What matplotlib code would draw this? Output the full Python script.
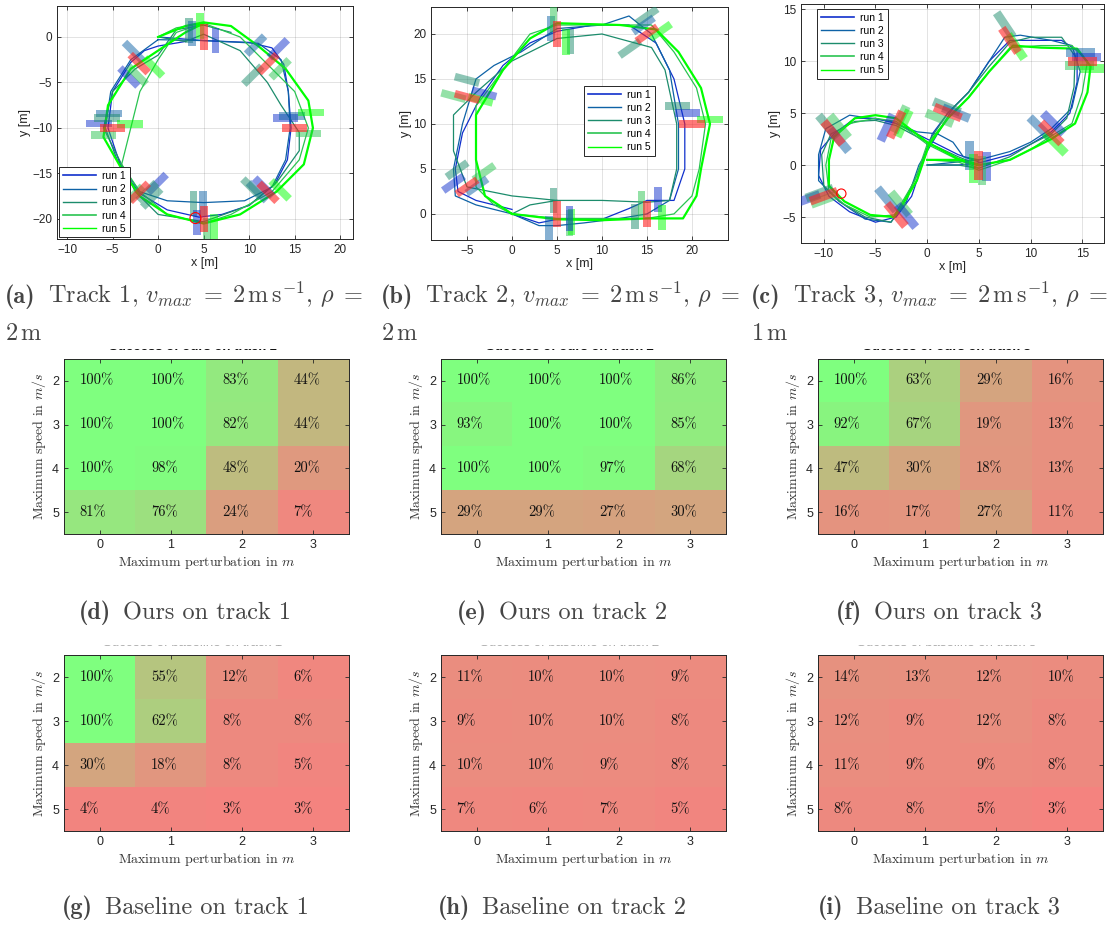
import matplotlib
matplotlib.use('Agg')
import matplotlib.pyplot as plt
from matplotlib.patches import Rectangle, Circle
from matplotlib.colors import LinearSegmentedColormap
from matplotlib.transforms import Bbox
from matplotlib.lines import Line2D

plt.rcParams['mathtext.fontset'] = 'cm'
plt.rcParams['font.family'] = ['Liberation Sans', 'DejaVu Sans']

# %% run colours (run 1 .. run 5)
run_names = ['run 1', 'run 2', 'run 3', 'run 4', 'run 5']
run_colors = ['#1030cc', '#0e62a6', '#1c8c6c', '#2ac451', '#00ff00']
run_widths = [0.9, 0.9, 0.9, 0.9, 1.6]

# %% Track 1 trajectories (x, y) in m
t1_run1 = [(0, 0), (5, -0.4), (10, -0.6), (12.5, -1.2), (13.8, -3), (14.3, -6), (14.6, -10),
           (14.2, -13.5), (12.8, -16.2), (10, -18.5), (7, -19.5), (4.5, -19.8), (1, -19),
           (-2, -17.2), (-4, -14.5), (-5.5, -10), (-5, -6), (-3, -2.8), (-1.5, -1.5), (0, -1), (3, -0.5)]
t1_run2 = [(0, -0.3), (5, -0.4), (11, -0.7), (13.5, -2.5), (14.3, -6), (14.5, -10), (14, -13.5),
           (12.5, -16.5), (9.5, -18), (5, -18.2), (1, -18), (-2, -17), (-4.5, -13.5), (-5.8, -10),
           (-5.2, -6), (-3, -2.5), (0, -0.3)]
t1_run3 = [(0, 0), (3, -0.5), (5, 0.3), (9, -1.5), (12, -5), (13.5, -7.5), (15.5, -10.5), (15.5, -12.5),
           (13, -16), (10, -18.5), (5, -20.3), (0, -19.5), (-2.5, -17), (-4.5, -13), (-6, -10), (-5, -6),
           (-2.5, -3.5), (0, -2), (2, 0.8), (5, 1.3), (8, 0.5)]
t1_run4 = [(0, 0), (2, 1), (5, 1.5), (9, 0), (12, -3), (15, -6), (16.5, -10), (15.5, -13.5), (12.5, -17),
           (8, -19.5), (5, -20.5), (1, -19.5), (-2, -17), (-4, -14), (-3, -10), (-2, -6), (0, -2.5),
           (2, 0.5), (5, 1.5)]
t1_run5 = [(0, 0), (3, 1.2), (5, 1.6), (8, 1.2), (11, -1), (14, -3.5), (16.5, -7), (17, -10), (16, -14),
           (13, -17), (9, -19.5), (5, -20.5), (1, -19.5), (-2, -17.5), (-4, -14.5), (-6, -11),
           (-5.5, -7.5), (-3, -3.5), (0, -1.5), (3, 0.5), (5, 1.5)]

# nominal gates (red): centre x, centre y, bar angle in deg
t1_gate_x = [5, 12.07, 15, 12.07, 5, -2.07, -5, -2.07]
t1_gate_y = [0, -2.93, -10, -17.07, -20, -17.07, -10, -2.93]
t1_gate_a = [90, 45, 0, -45, 90, 45, 0, -45]
# perturbed gates: run index, x, y, angle
t1_pert_run = [2, 1, 4, 0, 1, 0, 2, 3, 0, 1, 4, 3, 1, 2, 4, 0, 1, 2, 4, 0, 3, 0, 2, 3, 2, 0, 1, 2, 3, 4, 1, 0, 3, 4]
t1_pert_x = [3.4, 3.7, 4.6, 6.3, 10.7, 13.2, 10.4, 13.4, 14.0, 14.7, 16.8, 16.5, 10.9, 10.3, 13.4, 11.6,
             4.9, 3.9, 6.1, 4.3, 5.4, -0.1, -0.7, -2.7, -1.2, -6.5, -5.4, -5.6, -6.0, -3.1, -2.7, -3.2, -2.3, -0.5]
t1_pert_y = [0.7, 0.4, 1.2, -0.4, -0.9, -1.3, -4.2, -3.5, -8.9, -8.7, -8.3, -10.6, -17.0, -16.6, -16.8, -16.5,
             -18.3, -18.3, -20.9, -20.4, -21.3, -16.1, -17.7, -17.4, -17.0, -9.5, -8.4, -8.9, -10.8, -9.6,
             -1.6, -4.4, -4.2, -3.3]
t1_pert_a = [90, 90, 90, 90, 45, 45, 45, 45, 0, 0, 0, 0, -45, -45, -45, -45, 90, 90, 90, 90, 90,
             45, 45, 45, 45, 0, 0, 0, 0, 0, -45, -45, -45, -45]

# %% Track 2
t2_run1 = [(0, 0), (3, -1), (5, -0.6), (10, -0.6), (13, 0.6), (15, 1.5), (18, 1.5), (19.2, 5), (19.2, 10),
           (18, 15), (16, 19), (13, 21), (9, 21), (5, 20.3), (2, 19), (-1, 16.5), (-3.5, 13), (-5.5, 9),
           (-6.3, 5), (-6, 2.5), (-4, 1.5), (0, 0.5)]
t2_run2 = [(0, 0), (3, -1.3), (5, -1.3), (8, -1), (12, -0.5), (15, 0), (17.5, 1.5), (18.5, 5), (18.5, 10),
           (18, 13), (17.5, 16), (15.5, 20), (13, 22), (10, 21), (5, 20.6), (1, 18), (-2, 16.5), (-4, 15),
           (-5.5, 10), (-6.5, 5), (-6.3, 2), (-4, 1), (0, 0)]
t2_run3 = [(0, 0), (2, 1), (5, 1.5), (10, 1.5), (15, 1.3), (17.5, 1.5), (18.3, 5), (18.3, 10), (17, 16),
           (15.5, 18.5), (10, 20), (5, 19.5), (0, 17), (-4, 13.5), (-6.5, 11), (-6.5, 7), (-5, 3),
           (0, 2), (5, 1.5)]
t2_run4 = [(0, 0), (5, -0.5), (10, -0.5), (15, -0.5), (18, 0), (20, 2), (20.8, 5), (21.5, 10), (20.5, 14),
           (18, 18), (15.5, 21), (10, 21), (5, 21), (2, 20), (-1, 16), (-4, 12), (-4, 8), (-4, 3), (-2, 1), (0, 0)]
t2_run5 = [(0, 0), (5, -0.6), (10, -0.7), (15, -0.5), (19, -0.5), (20.5, 2), (21, 5), (22, 10), (21, 14),
           (18.5, 18), (16, 20.5), (12, 21), (5, 21.2), (2, 19.5), (-1, 16), (-4, 11), (-4, 6), (-3, 2), (0, 0)]

t2_gate_x = [5, 15, 20, 15, 5, -5, -5]
t2_gate_y = [0, 0, 10, 20, 20, 13, 3]
t2_gate_a = [90, 90, 0, 35, 90, -15, 35]
t2_pert_run = [2, 1, 3, 4, 0, 0, 2, 3, 4, 2, 0, 4, 2, 1, 4, 2, 1, 3, 2, 4, 2, 0, 3, 4, 2, 0, 3, 1]
t2_pert_x = [4.6, 4.1, 6.4, 6.6, 6.4, 16.2, 13.7, 14.4, 16.7, 18.4, 19.5, 22.0, 15.0, 14.6, 16.5, 13.1,
             4.3, 4.6, 6.5, 6.0, -5.0, -3.1, -6.5, -3.5, -6.1, -6.5, -3.1, -3.9]
t2_pert_y = [1.5, -1.6, -1.0, -0.9, -0.5, 1.6, -0.3, 1.1, -0.4, 12.0, 11.2, 10.5, 22.0, 21.0, 20.3, 18.4,
             20.6, 21.6, 19.2, 19.1, 14.9, 13.4, 13.1, 12.7, 4.9, 3.4, 4.6, 3.1]
t2_pert_a = [90, 90, 90, 90, 90, 90, 90, 90, 90, 0, 0, 0, 35, 35, 35, 35, 90, 90, 90, 90,
             -15, -15, -15, -15, 35, 35, 35, 35]

# %% Track 3
t3_run1 = [(0, 0), (3, 0), (5, 0.2), (8, 1), (10, 2), (12, 3.2), (13.8, 5), (14.5, 8), (14.5, 11), (13, 12),
           (10, 12), (8, 12), (6, 10), (4, 7), (2, 5), (0.5, 3), (-0.5, 0), (-1.5, -3), (-3, -5), (-5, -5.5),
           (-7.5, -4.5), (-9.5, -3), (-10.5, -1), (-10.3, 1.5), (-9, 3), (-7, 4.5), (-5, 4.5), (-3, 4),
           (0, 2.5), (3, 1), (5, 0.3)]
t3_run2 = [(0, 0), (3, 0.3), (5, 0.5), (8, 1.3), (10, 2.2), (12, 3.5), (14, 5.5), (14.8, 9), (14, 11.5),
           (12, 12), (9, 12.5), (7.5, 12.3), (6, 10), (4, 7), (2.5, 5.5), (1, 3), (-0.8, 0), (-2, -3.5),
           (-3.5, -5.5), (-6, -5.2), (-8.5, -3.5), (-10.5, -1.5), (-10.5, 1), (-9.8, 3.5), (-7.5, 4.8),
           (-5.5, 4.5), (-3.5, 4.2), (-1, 3.2), (1, 3), (2.5, 2.2), (3.5, 0.8), (5, 0.5)]
t3_run3 = [(0, 0), (3, 0), (5, -0.3), (8, 0.8), (10, 2), (12, 3), (13.5, 4.5), (14.2, 7.5), (14.3, 10.5),
           (13, 12.3), (10, 12.3), (8, 11.8), (6, 9.5), (4, 7), (2, 5), (0.3, 2.5), (-1, -1), (-2.5, -4),
           (-3.5, -5.5), (-6, -5), (-8.5, -3.5), (-10, -2), (-10.2, 1), (-9.3, 3), (-7, 4.2), (-5, 4.3),
           (-3, 3.8), (0, 2.2), (3, 0.8), (5, 0)]
t3_run4 = [(0, 0.5), (3, 0.3), (5, -0.5), (8, 0.5), (10, 1.5), (12, 2.8), (14, 4), (15, 7), (15.5, 10),
           (14, 11.5), (11, 11.5), (8, 11.3), (6, 9), (4, 6.5), (2, 4.5), (0, 2), (-1.2, -1.5), (-2.8, -4.2),
           (-3.2, -4.8), (-5.5, -5), (-8, -3.8), (-9.5, -2.5), (-9.8, 0), (-9.3, 2.5), (-7.5, 4), (-5, 4.5),
           (-3, 4.2), (0, 2), (3, 0.5), (5, -0.3)]
t3_run5 = [(0, 0.5), (3, 0.5), (5, 0), (8, 0.5), (10, 1.5), (12, 2.5), (14.3, 4), (15.5, 7), (15.8, 9.5),
           (14.5, 11.2), (11, 11.3), (8.3, 11.5), (6, 9), (4, 6.5), (2, 4.5), (0.2, 2), (-1, -1.5), (-2.5, -4),
           (-3.2, -5), (-5.5, -4.8), (-8, -3.5), (-9.5, -2), (-9.5, 0.5), (-9, 2.7), (-7, 4.5), (-5, 4.8),
           (-3, 4.5), (0, 2.2), (3, 0.6), (5, 0)]

t3_gate_x = [-10, -9.1, -3, -3, 2, 5, 8, 15, 12]
t3_gate_y = [-3, 3.1, 3.9, -4.8, 5.06, 0, 12, 10, 3.1]
t3_gate_a = [20, -50, 65, -50, -22, 90, -56, 0, -45]
t3_pert_run = [0, 2, 3, 2, 3, 1, 0, 3, 4, 1, 3, 0, 2, 3, 1, 1, 0, 3, 4, 2, 4, 1, 0, 3, 4, 1, 0, 4]
t3_pert_x = [-11.7, -10.4, -9.9, -9.6, -8.5, -8.5, -3.9, -2.6, -2.3, -3.9, -2.6, -2.0, 1.9, 1.2, 2.8,
             4.1, 5.7, 5.3, 4.5, 7.5, 8.6, 14.8, 15.4, 14.7, 16.2, 10.9, 12.2, 12.4]
t3_pert_y = [-3.3, -2.7, -3.3, 3.7, 3.7, 2.4, 3.6, 4.4, 4.0, -3.3, -3.7, -4.9, 5.6, 4.5, 5.0,
             0.9, -0.1, -0.5, -0.3, 13.5, 11.4, 10.8, 10.4, 9.6, 9.3, 3.6, 4.0, 2.1]
t3_pert_a = [20, 20, 20, -50, -50, -50, 65, 65, 65, -50, -50, -50, -22, -22, -22,
             90, 90, 90, 90, -56, -56, 0, 0, 0, 0, -45, -45, -45]

# %% success rates in % (rows: max speed 2..5, cols: max perturbation 0..3)
speeds = [2, 3, 4, 5]
perturbations = [0, 1, 2, 3]
ours_t1 = [[100, 100, 83, 44], [100, 100, 82, 44], [100, 98, 48, 20], [81, 76, 24, 7]]
ours_t2 = [[100, 100, 100, 86], [93, 100, 100, 85], [100, 100, 97, 68], [29, 29, 27, 30]]
ours_t3 = [[100, 63, 29, 16], [92, 67, 19, 13], [47, 30, 18, 13], [16, 17, 27, 11]]
base_t1 = [[100, 55, 12, 6], [100, 62, 8, 8], [30, 18, 8, 5], [4, 4, 3, 3]]
base_t2 = [[11, 10, 10, 9], [9, 10, 10, 8], [10, 10, 9, 8], [7, 6, 7, 5]]
base_t3 = [[14, 13, 12, 10], [12, 9, 12, 8], [11, 9, 9, 8], [8, 8, 5, 3]]

CAP_COLOR = '#454545'
CAP_SIZE = 17.5
GATE_L, GATE_W = 2.8, 0.85


def gate(ax, x, y, ang, color, alpha):
    ax.add_patch(Rectangle((x - GATE_L / 2, y - GATE_W / 2), GATE_L, GATE_W, angle=ang,
                           rotation_point='center', facecolor=color, edgecolor='none',
                           alpha=alpha, zorder=3))


def matlab_axes(ax):
    ax.tick_params(direction='in', top=True, right=True, labelsize=8.5, length=3,
                   colors='#262626', width=0.6)
    for s in ax.spines.values():
        s.set_color('#262626')
        s.set_linewidth(0.7)


def track_plot(pos, runs, gx, gy, ga, pr, px, py, pa, xlim, ylim, xt, yt, circ, legkw):
    ax = fig.add_axes(pos)
    for i, r in enumerate(runs):
        ax.plot([p[0] for p in r], [p[1] for p in r], color=run_colors[i], lw=run_widths[i], zorder=2)
    for k in range(len(pr)):
        gate(ax, px[k], py[k], pa[k], run_colors[pr[k]], 0.5)
    for k in range(len(gx)):
        gate(ax, gx[k], gy[k], ga[k], '#ff2020', 0.6)
    if circ:
        ax.add_patch(Circle(circ[:2], circ[2], fill=False, edgecolor='red', lw=0.8, zorder=4))
    ax.set_xlim(xlim)
    ax.set_ylim(ylim)
    ax.set_xticks(xt)
    ax.set_yticks(yt)
    ax.grid(True, color='#262626', alpha=0.15, lw=0.6)
    ax.set_axisbelow(True)
    ax.set_xlabel('x [m]', fontsize=9, color='#262626', labelpad=1)
    ax.set_ylabel('y [m]', fontsize=9, color='#262626', labelpad=1)
    matlab_axes(ax)
    handles = [Line2D([], [], color=run_colors[i], lw=1.2 if i in (0, 3) else 1.0) for i in range(5)]
    leg = ax.legend(handles, run_names, fontsize=7.5, fancybox=False, edgecolor='#262626',
                    framealpha=1, handlelength=3.2, borderpad=0.35, labelspacing=0.3,
                    handletextpad=0.6, **legkw)
    leg.get_frame().set_linewidth(0.7)
    leg.set_zorder(10)
    return ax


cmap = LinearSegmentedColormap.from_list('succ', [(0.97, 0.5, 0.5), (0.5, 1.0, 0.5)])


def heat(pos, data, title, tcolor, tweight):
    ax = fig.add_axes(pos)
    ax.imshow(data, cmap=cmap, vmin=0, vmax=100, aspect='auto')
    for r in range(len(speeds)):
        for c in range(len(perturbations)):
            ax.text(c - 0.28, r, '%d%%' % data[r][c], family='cmr10', fontsize=10.5,
                    ha='left', va='center', color='#111111')
    ax.set_xticks(range(len(perturbations)))
    ax.set_xticklabels(perturbations)
    ax.set_yticks(range(len(speeds)))
    ax.set_yticklabels(speeds)
    ax.set_xlabel('Maximum perturbation in $m$', family='cmr10', fontsize=10, color='#333333', labelpad=2)
    ax.set_ylabel('Maximum speed in $m/s$', family='cmr10', fontsize=10, color='#333333', labelpad=3)
    matlab_axes(ax)
    ax.tick_params(labelsize=9)
    # title clipped by the figure above (only the bottom of the letters shows)
    bb = ax.get_position()
    x0 = bb.x0 * W
    x1 = bb.x1 * W
    ytop = bb.y1 * H
    t = fig.text((bb.x0 + bb.x1) / 2 - 14 / W, (ytop + 8.5) / H, title, ha='center', va='baseline',
                 fontsize=9.5, fontweight=tweight, color=tcolor)
    t.set_clip_box(Bbox.from_extents(x0 - 20, ytop + 7, x1 + 20, ytop + 10.5))
    t.set_clip_on(True)
    return ax


def caption(x, y_img, lab, rest, ha='left'):
    # bold sub-figure label followed by the roman caption text
    rend = fig.canvas.get_renderer()
    t1 = fig.text(0, 1 - y_img / H, '(%s)' % lab, family='cmb10', fontsize=CAP_SIZE,
                  color=CAP_COLOR, va='baseline')
    t2 = fig.text(0, 1 - y_img / H, rest, family='cmr10', fontsize=CAP_SIZE,
                  color=CAP_COLOR, va='baseline')
    w1 = t1.get_window_extent(rend).width
    w2 = t2.get_window_extent(rend).width
    gap = 12
    start = x if ha == 'left' else x - (w1 + gap + w2) / 2
    t1.set_x(start / W)
    t2.set_x((start + w1 + gap) / W)


W, H = 1110, 927
fig = plt.figure(figsize=(W / 100, H / 100), dpi=100)

track_plot([57 / W, 1 - 239 / H, 296 / W, 233 / H], [t1_run1, t1_run2, t1_run3, t1_run4, t1_run5],
           t1_gate_x, t1_gate_y, t1_gate_a, t1_pert_run, t1_pert_x, t1_pert_y, t1_pert_a,
           (-11.1, 21.4), (-22.2, 3.4), range(-10, 21, 5), range(-20, 1, 5), (4.1, -19.9, 0.6),
           dict(loc='lower left', bbox_to_anchor=(-0.01, -0.015)))
track_plot([431 / W, 1 - 240 / H, 297 / W, 233 / H], [t2_run1, t2_run2, t2_run3, t2_run4, t2_run5],
           t2_gate_x, t2_gate_y, t2_gate_a, t2_pert_run, t2_pert_x, t2_pert_y, t2_pert_a,
           (-9, 24), (-2.9, 23), range(-5, 21, 5), range(0, 21, 5), None,
           dict(loc='lower left', bbox_to_anchor=(0.515, 0.361), borderaxespad=0))
track_plot([801 / W, 1 - 243 / H, 303 / W, 239 / H], [t3_run1, t3_run2, t3_run3, t3_run4, t3_run5],
           t3_gate_x, t3_gate_y, t3_gate_a, t3_pert_run, t3_pert_x, t3_pert_y, t3_pert_a,
           (-12.2, 17.1), (-7.5, 15.5), range(-10, 16, 5), range(-5, 16, 5), (-8.3, -2.75, 0.45),
           dict(loc='upper left', bbox_to_anchor=(0.053, 0.979), borderaxespad=0))

# captions of the first row
for x0, lab, tr, rho in [(5, 'a', 1, 2), (381, 'b', 2, 2), (751, 'c', 3, 1)]:
    caption(x0, 303, lab, r'Track %d, $v_{max}\;=\;2\,\mathrm{m\,s^{-1}}$, $\rho\;=$' % tr)
    fig.text(x0 / W, 1 - 340 / H, r'$%d\,\mathrm{m}$' % rho, fontsize=CAP_SIZE, ha='left',
             va='baseline', family='cmr10', color=CAP_COLOR)

heat_x = [64, 441, 818]
for i, (d, lab, tr) in enumerate([(ours_t1, 'd', 1), (ours_t2, 'e', 2), (ours_t3, 'f', 3)]):
    heat([heat_x[i] / W, 1 - 534 / H, 285 / W, 175 / H], d, 'Success of ours on track %d' % tr,
         '#111111', 'bold')
    caption(heat_x[i] + 121, 619, lab, 'Ours on track %d' % tr, ha='center')
for i, (d, lab, tr) in enumerate([(base_t1, 'g', 1), (base_t2, 'h', 2), (base_t3, 'i', 3)]):
    heat([heat_x[i] / W, 1 - 831 / H, 285 / W, 176 / H], d, 'Success of baseline on track %d' % tr,
         '#aaaaaa', 'normal')
    caption(heat_x[i] + 121, 914, lab, 'Baseline on track %d' % tr, ha='center')

fig.savefig('out.png', dpi=100, facecolor='white')
